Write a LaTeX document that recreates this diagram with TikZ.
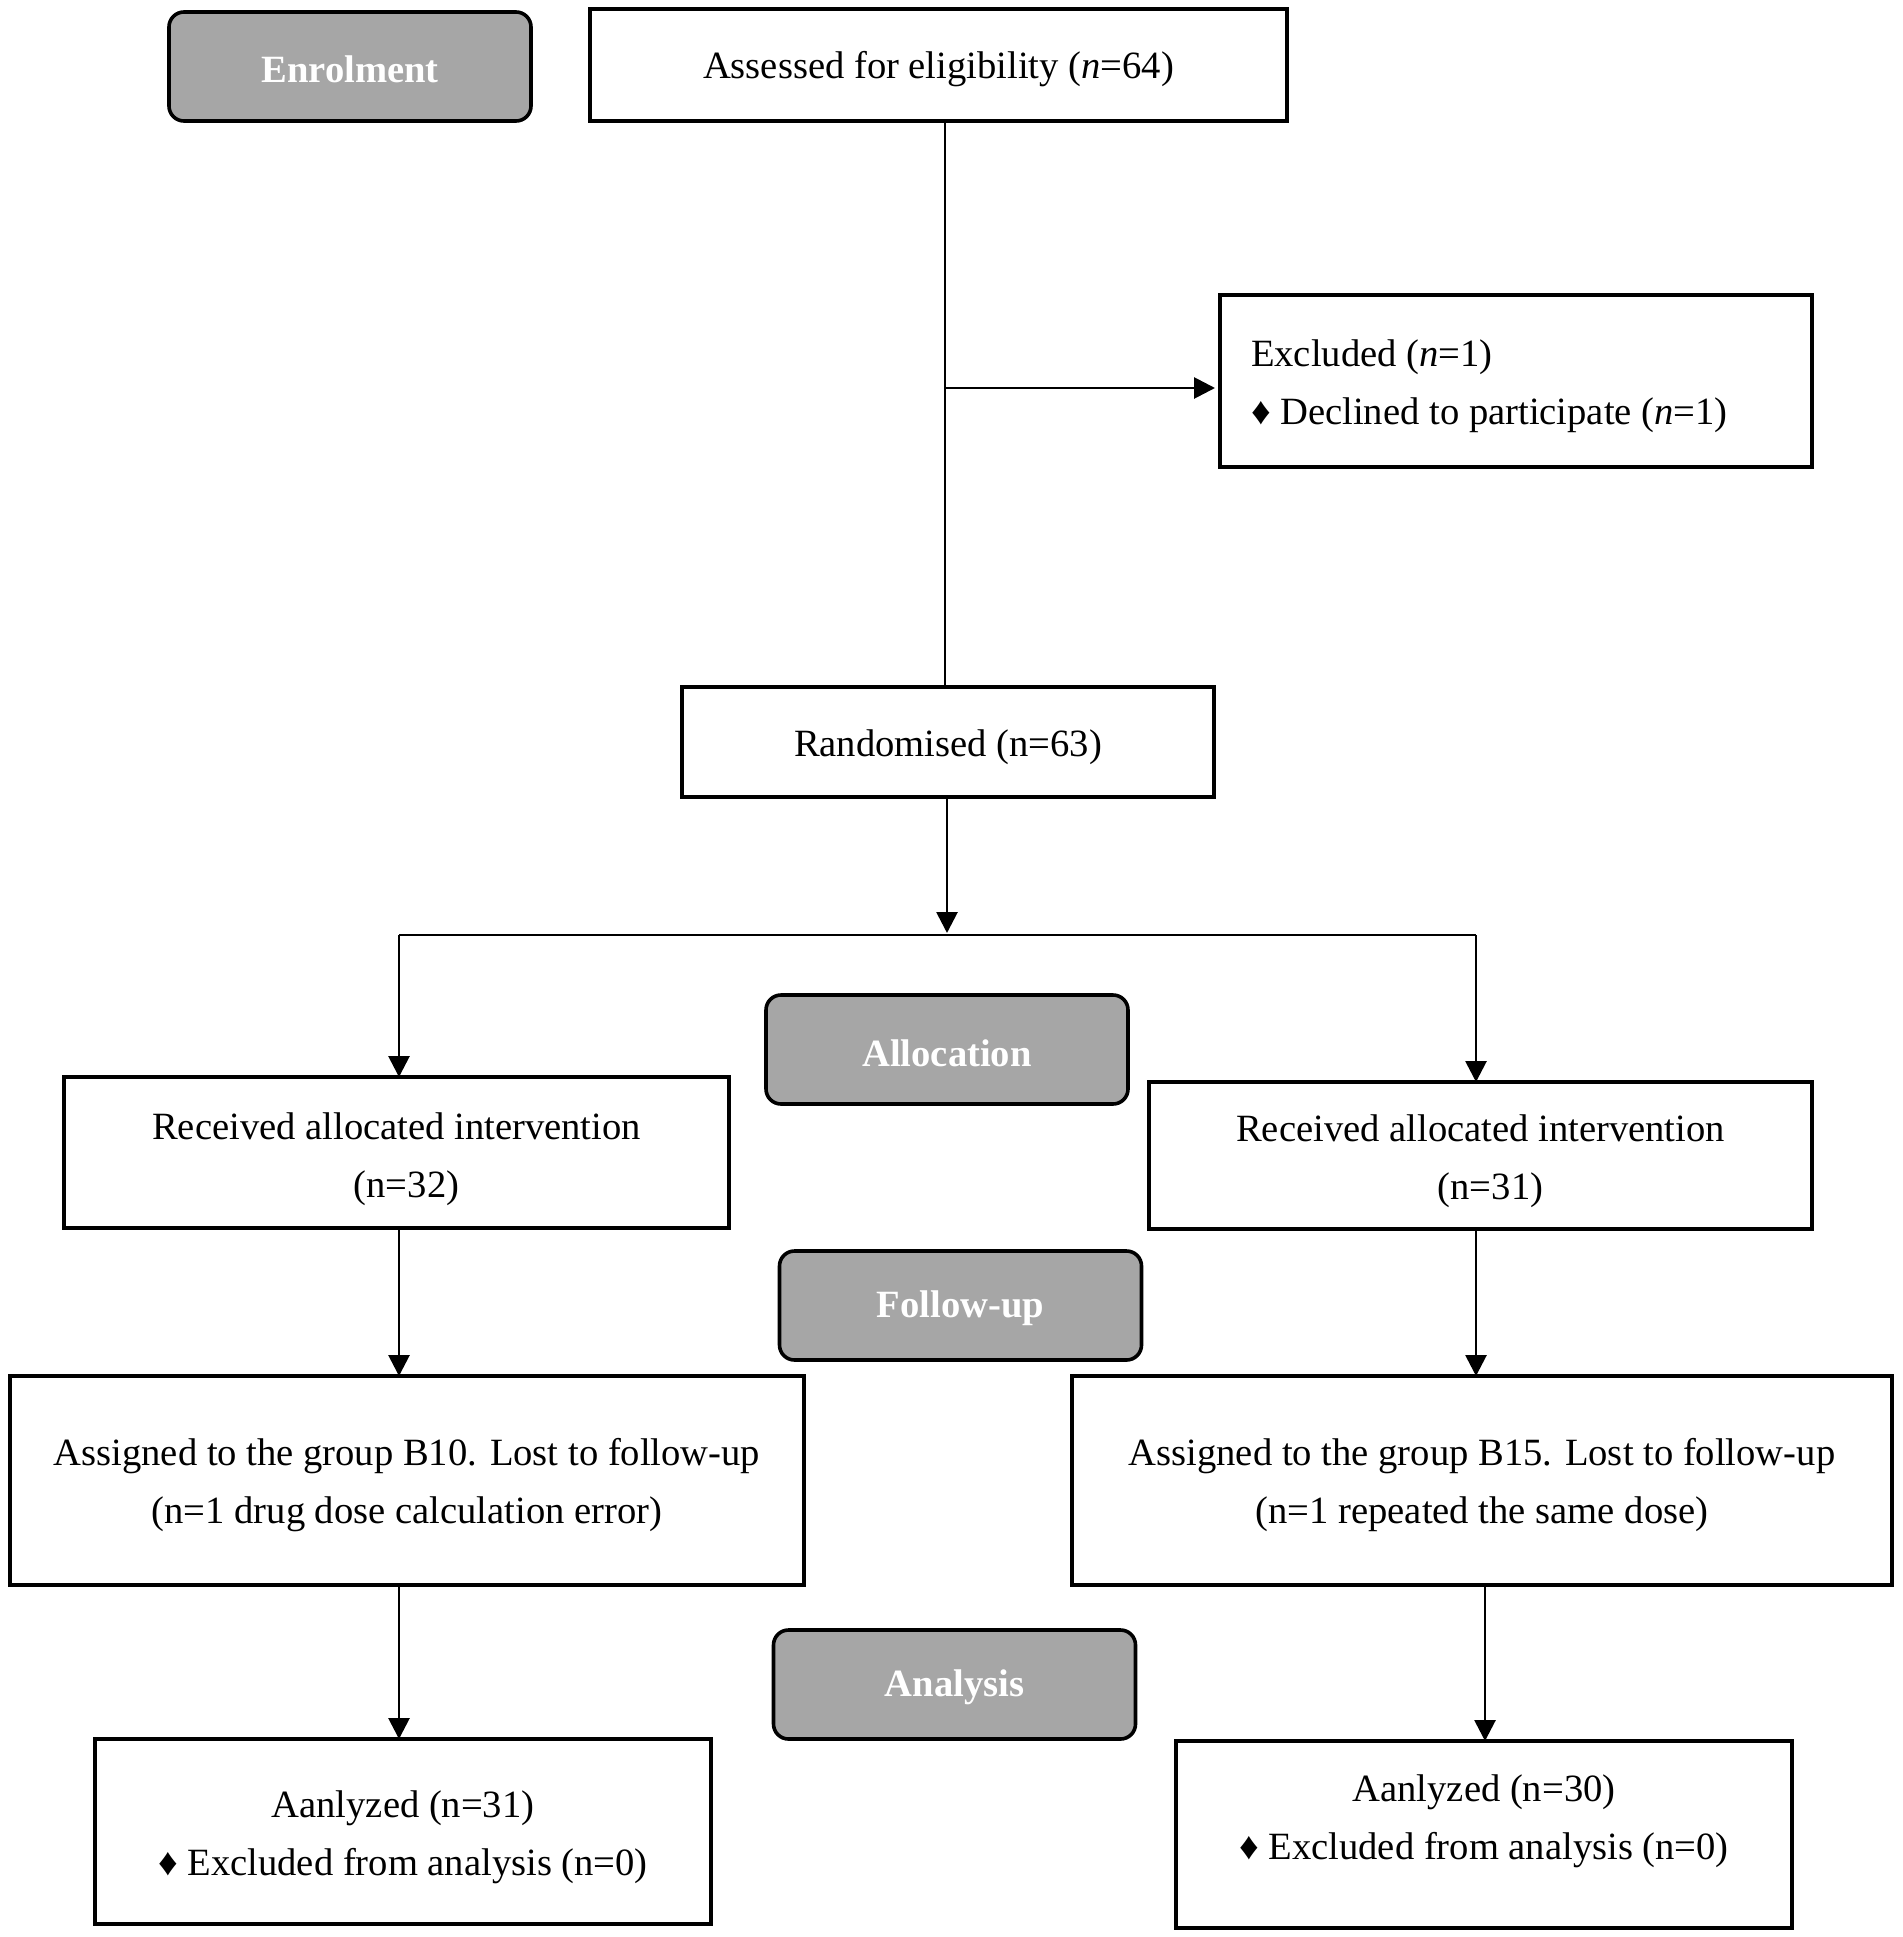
\documentclass[tikz,border=0pt]{standalone}
\usepackage{fontspec}
\setmainfont{Liberation Serif}
\usetikzlibrary{arrows.meta}
\definecolor{hdrgray}{HTML}{A6A6A6}
\begin{document}
\begin{tikzpicture}[x=0.5pt,y=-0.5pt,
  every node/.style={font=\fontsize{19.3pt}{29pt}\selectfont, inner sep=0pt, outer sep=0pt},
  box/.style={draw=black, line width=1.6pt, fill=white},
  hdr/.style={draw=black, line width=1.8pt, fill=hdrgray, rounded corners=7.5pt,
    minimum width=181pt, minimum height=54.5pt},
  hdrtxt/.style={text=white, font=\fontsize{19.3pt}{29pt}\selectfont\bfseries},
  tx/.style={align=center},
  conn/.style={draw=black, line width=1.4pt},
  arr/.style={conn, -{Triangle[length=10.5pt,width=10.5pt]}}
]
\useasboundingbox (0,0) rectangle (1902,1937);
% header boxes
\node[hdr] (enrol) at (350,66.5) {};
\node[hdrtxt] (enroltxt) at ([yshift=-1.5pt]enrol.center) {Enrolment};
\node[hdr] (alloc) at (947,1049.5) {};
\node[hdrtxt] (alloctxt) at ([yshift=-1.8pt]alloc.center) {Allocation};
\node[hdr] (follow) at (960.5,1305.5) {};
\node[hdrtxt] (followtxt) at ([yshift=-1.5pt]follow.center) {Follow-up};
\node[hdr] (analhdr) at (954.5,1684.5) {};
\node[hdrtxt] (analhdrtxt) at ([yshift=-1.5pt]analhdr.center) {Analysis};
% boxes
\node[box, minimum width=348.5pt, minimum height=56pt] (assess) at (938.5,65) {};
\node[tx] (assesstxt) at ([yshift=-2pt]assess.center) {Assessed for eligibility (\textit{n}=64)};
\node[box, minimum width=296pt, minimum height=86pt] (excl) at (1516,381) {};
\node[align=left, anchor=west] (excltxt) at ([yshift=-2pt]1251,382) {Excluded (\textit{n}=1)\\♦ Declined to participate (\textit{n}=1)};
\node[box, minimum width=266pt, minimum height=55pt] (rand) at (948,742) {};
\node[tx] (randtxt) at ([yshift=-2.5pt]rand.center) {Randomised (n=63)};
\node[box, minimum width=332.5pt, minimum height=75.5pt] (recL) at (396.5,1152.5) {};
\node[tx] (recLtxt) at ([yshift=-3.5pt]recL.center) {Received allocated intervention\\\hspace*{10pt}(n=32)};
\node[box, minimum width=331.5pt, minimum height=73.5pt] (recR) at (1480.5,1155.5) {};
\node[tx] (recRtxt) at ([yshift=-3pt]recR.center) {Received allocated intervention\\\hspace*{10pt}(n=31)};
\node[box, minimum width=397pt, minimum height=104.5pt] (asgL) at (407,1480.5) {};
\node[tx] (asgLtxt) at ([yshift=-2.5pt]asgL.center) {Assigned to the group B10. Lost to follow-up\\(n=1 drug dose calculation error)};
\node[box, minimum width=410pt, minimum height=104.5pt] (asgR) at (1482,1480.5) {};
\node[tx] (asgRtxt) at ([yshift=-2.5pt]asgR.center) {Assigned to the group B15. Lost to follow-up\\(n=1 repeated the same dose)};
\node[box, minimum width=308pt, minimum height=92.5pt] (anaL) at (403,1831.5) {};
\node[tx] (anaLtxt) at ([yshift=-2.8pt]anaL.center) {Aanlyzed (n=31)\\♦ Excluded from analysis (n=0)};
\node[box, minimum width=308pt, minimum height=93.5pt] (anaR) at (1484,1834.5) {};
\node[tx] (anaRtxt) at ([yshift=-2.5pt]1484,1816) {Aanlyzed (n=30)\\♦ Excluded from analysis (n=0)};
% connector coordinates
\coordinate (xmain) at (945,0);
\coordinate (xrand) at (947,0);
\coordinate (yexcl) at (0,388);
\coordinate (xL) at (399,0);
\coordinate (xR) at (1476,0);
\coordinate (xR2) at (1485,0);
\coordinate (splitL) at (399,935);
\coordinate (splitR) at (1476,935);
\coordinate (randtip) at (947,933);
% connectors
\draw[conn] (assess.south -| xmain) -- (rand.north -| xmain);
\draw[arr] (yexcl -| xmain) -- ([xshift=-2.5pt]excl.west |- yexcl);
\draw[arr] (rand.south -| xrand) -- (randtip);
\draw[conn] (splitL) -- (splitR);
\draw[arr] (splitL) -- (recL.north -| xL);
\draw[arr] (splitR) -- (recR.north -| xR);
\draw[arr] (recL.south -| xL) -- (asgL.north -| xL);
\draw[arr] (recR.south -| xR) -- (asgR.north -| xR);
\draw[arr] (asgL.south -| xL) -- (anaL.north -| xL);
\draw[arr] (asgR.south -| xR2) -- (anaR.north -| xR2);
\end{tikzpicture}
\end{document}
